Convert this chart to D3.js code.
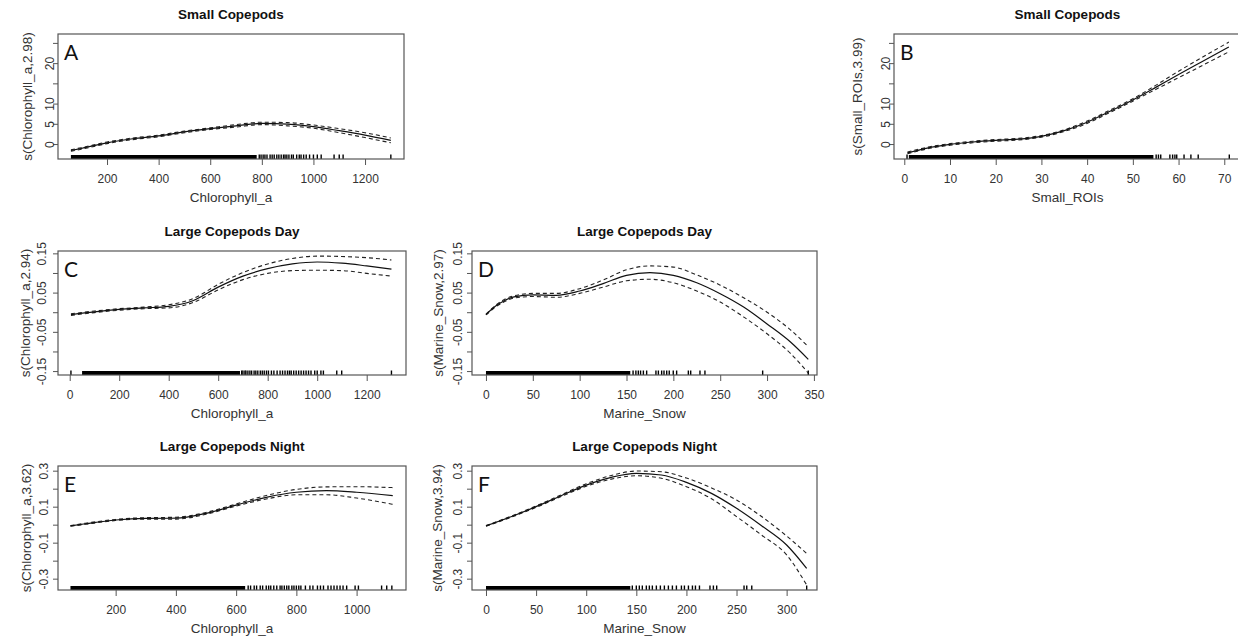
<!DOCTYPE html>
<meta charset="utf-8">
<head>
  <style>
    body {margin: 0; background-color: #ffffff;}
    text {font-family: "Liberation Sans", Arial, sans-serif; fill: #333;}
  </style>
  <title></title>
</head>
<body>
<script src="https://d3js.org/d3.v7.min.js"></script>
<script>

  // ---- A: Small Copepods vs Chlorophyll_a
  const aX     = [60, 100, 200, 300, 400, 500, 600, 700, 800, 900, 1000, 1100, 1200, 1300];
  const aFit   = [-1.6, -1.1, 0.3, 1.3, 2.0, 3.0, 3.8, 4.5, 5.1, 4.9, 4.3, 3.3, 2.2, 0.9];
  const aUpper = [-1.4, -0.9, 0.5, 1.5, 2.2, 3.2, 4.0, 4.8, 5.4, 5.3, 4.7, 3.8, 2.8, 1.5];
  const aLower = [-1.8, -1.3, 0.1, 1.1, 1.8, 2.8, 3.6, 4.2, 4.8, 4.5, 3.9, 2.8, 1.6, 0.3];
  const aRugBand = [[60, 780]];
  const aRugTicks = [790, 797, 805, 812, 820, 832, 840, 848, 858, 866, 875, 884, 890, 897, 905,
                     915, 922, 935, 945, 952, 962, 972, 985, 1000, 1015, 1030, 1080, 1100, 1115, 1300];

  // ---- B: Small Copepods vs Small_ROIs
  const bX     = [0.7, 5, 10, 15, 20, 25, 30, 35, 40, 45, 50, 55, 60, 65, 71];
  const bFit   = [-2.2, -1.0, -0.1, 0.5, 0.9, 1.2, 1.9, 3.3, 5.4, 8.1, 10.9, 14.0, 17.2, 20.3, 24.0];
  const bUpper = [-2.0, -0.8, 0.1, 0.7, 1.1, 1.4, 2.1, 3.5, 5.7, 8.4, 11.2, 14.5, 18.0, 21.3, 25.2];
  const bLower = [-2.4, -1.2, -0.3, 0.3, 0.7, 1.0, 1.7, 3.1, 5.1, 7.8, 10.6, 13.5, 16.4, 19.3, 22.8];
  const bRugBand = [[1, 54.5]];
  const bRugTicks = [0.6, 55.1, 55.6, 56.1, 58.1, 58.7, 59.2, 59.6, 61.2, 62.7, 64.3, 71.1];

  // ---- C: Large Copepods Day vs Chlorophyll_a
  const cX     = [5, 100, 200, 300, 400, 500, 600, 700, 800, 900, 1000, 1100, 1200, 1300];
  const cFit   = [-0.006, 0.001, 0.007, 0.011, 0.015, 0.030, 0.064, 0.092, 0.111, 0.123, 0.128, 0.125, 0.118, 0.110];
  const cUpper = [-0.004, 0.003, 0.009, 0.013, 0.019, 0.035, 0.071, 0.101, 0.123, 0.137, 0.143, 0.142, 0.139, 0.133];
  const cLower = [-0.008, -0.001, 0.005, 0.009, 0.011, 0.025, 0.057, 0.083, 0.099, 0.106, 0.107, 0.106, 0.099, 0.092];
  const cRugBand = [[50, 688]];
  const cRugTicks = [5, 695, 700, 708, 712, 720, 728, 735, 745, 752, 760, 770, 778, 786, 795, 803, 815,
                     825, 838, 850, 860, 870, 880, 888, 895, 905, 915, 925, 935, 945, 955, 965, 975,
                     990, 1000, 1015, 1025, 1079, 1099, 1300];

  // ---- D: Large Copepods Day vs Marine_Snow
  const dX     = [0, 10, 20, 30, 50, 75, 100, 125, 150, 175, 200, 225, 250, 275, 300, 325, 344];
  const dFit   = [-0.006, 0.015, 0.030, 0.039, 0.044, 0.043, 0.054, 0.073, 0.094, 0.101, 0.094, 0.075, 0.047, 0.013, -0.030, -0.076, -0.120];
  const dUpper = [-0.005, 0.017, 0.033, 0.042, 0.048, 0.048, 0.060, 0.082, 0.108, 0.118, 0.115, 0.095, 0.069, 0.037, 0.000, -0.045, -0.088];
  const dLower = [-0.007, 0.013, 0.027, 0.036, 0.040, 0.038, 0.048, 0.064, 0.080, 0.084, 0.075, 0.054, 0.026, -0.012, -0.055, -0.105, -0.155];
  const dRugBand = [[0, 154]];
  const dRugTicks = [157, 160, 162.6, 165, 168, 171.5, 181.4, 184, 187.5, 190, 192.9, 195.6, 199.9,
                     203.5, 216, 218.5, 228.4, 233.7, 295.3, 344];

  // ---- E: Large Copepods Night vs Chlorophyll_a
  const eX     = [50, 100, 200, 300, 400, 500, 600, 700, 800, 900, 1000, 1120];
  const eFit   = [-0.007, 0.005, 0.026, 0.035, 0.036, 0.063, 0.109, 0.152, 0.180, 0.189, 0.180, 0.161];
  const eUpper = [-0.005, 0.008, 0.029, 0.039, 0.041, 0.068, 0.115, 0.162, 0.196, 0.210, 0.211, 0.206];
  const eLower = [-0.009, 0.002, 0.023, 0.031, 0.031, 0.058, 0.103, 0.143, 0.166, 0.166, 0.148, 0.113];
  const eRugBand = [[50, 630]];
  const eRugTicks = [640, 648, 660, 668, 680, 688, 700, 708, 715, 725, 735, 746, 752, 760, 768, 775,
                     785, 792, 800, 808, 815, 830, 845, 855, 870, 880, 890, 905, 915, 925, 935, 945,
                     955, 967, 995, 1006, 1083, 1100, 1117];

  // ---- F: Large Copepods Night vs Marine_Snow
  const fX     = [0, 25, 50, 75, 100, 125, 150, 175, 200, 225, 250, 275, 300, 320];
  const fFit   = [-0.007, 0.044, 0.100, 0.161, 0.220, 0.263, 0.285, 0.276, 0.235, 0.174, 0.091, -0.006, -0.113, -0.243];
  const fUpper = [-0.005, 0.047, 0.104, 0.166, 0.227, 0.273, 0.298, 0.294, 0.259, 0.204, 0.137, 0.045, -0.063, -0.160];
  const fLower = [-0.009, 0.041, 0.096, 0.156, 0.213, 0.253, 0.272, 0.258, 0.211, 0.144, 0.045, -0.058, -0.168, -0.335];
  const fRugBand = [[0, 144]];
  const fRugTicks = [146, 150, 153, 156, 160, 163, 166, 170, 174, 178, 182, 186, 190, 195, 198, 202,
                     206, 209, 213, 223.5, 226.9, 230.2, 257.5, 260.2, 265.2, 320];

  // ---- axis ticks
  const chlTicksA = [200, 400, 600, 800, 1000, 1200];
  const chlTicksC = [0, 200, 400, 600, 800, 1000, 1200];
  const chlTicksE = [200, 400, 600, 800, 1000];
  const roiTicks  = [0, 10, 20, 30, 40, 50, 60, 70];
  const snowTicksD = [0, 50, 100, 150, 200, 250, 300, 350];
  const snowTicksF = [0, 50, 100, 150, 200, 250, 300];
  const smallYTicks  = [0, 5, 10, 15, 20, 25];
  const smallYLabels = ["0", "5", "10", "", "20", ""];
  const dayYTicks  = [-0.15, -0.10, -0.05, 0, 0.05, 0.10, 0.15];
  const dayYLabels = ["-0.15", "", "-0.05", "", "0.05", "", "0.15"];
  const nightYTicks  = [-0.3, -0.2, -0.1, 0, 0.1, 0.2, 0.3];
  const nightYLabels = ["-0.3", "", "-0.1", "", "0.1", "", "0.3"];

  const W = 1238, H = 638;

  const panels = [
    {tag: "A", title: "Small Copepods", xlab: "Chlorophyll_a", ylab: "s(Chlorophyll_a,2.98)",
     x: aX, fit: aFit, up: aUpper, lo: aLower, band: aRugBand, rug: aRugTicks,
     xTicks: chlTicksA, yTicks: smallYTicks, yLabels: smallYLabels,
     box: {l: 58, r: 404, t: 34, b: 159}, xDom: [10, 1351], yDom: [-3.7, 27.2], tlOff: -8, ylOff: -31},
    {tag: "B", title: "Small Copepods", xlab: "Small_ROIs", ylab: "s(Small_ROIs,3.99)",
     x: bX, fit: bFit, up: bUpper, lo: bLower, band: bRugBand, rug: bRugTicks,
     xTicks: roiTicks, yTicks: smallYTicks, yLabels: smallYLabels,
     box: {l: 894, r: 1241, t: 34, b: 159}, xDom: [-2.25, 73.66], yDom: [-3.7, 27.2], tlOff: -8, ylOff: -37},
    {tag: "C", title: "Large Copepods Day", xlab: "Chlorophyll_a", ylab: "s(Chlorophyll_a,2.94)",
     x: cX, fit: cFit, up: cUpper, lo: cLower, band: cRugBand, rug: cRugTicks,
     xTicks: chlTicksC, yTicks: dayYTicks, yLabels: dayYLabels,
     box: {l: 58, r: 406, t: 251, b: 375}, xDom: [-47.3, 1358.8], yDom: [-0.160, 0.156], tlOff: -16, ylOff: -33},
    {tag: "D", title: "Large Copepods Day", xlab: "Marine_Snow", ylab: "s(Marine_Snow,2.97)",
     x: dX, fit: dFit, up: dUpper, lo: dLower, band: dRugBand, rug: dRugTicks,
     xTicks: snowTicksD, yTicks: dayYTicks, yLabels: dayYLabels,
     box: {l: 472, r: 817, t: 251, b: 375}, xDom: [-14.9, 353.3], yDom: [-0.160, 0.156], tlOff: -14, ylOff: -34.5},
    {tag: "E", title: "Large Copepods Night", xlab: "Chlorophyll_a", ylab: "s(Chlorophyll_a,3.62)",
     x: eX, fit: eFit, up: eUpper, lo: eLower, band: eRugBand, rug: eRugTicks,
     xTicks: chlTicksE, yTicks: nightYTicks, yLabels: nightYLabels,
     box: {l: 58, r: 406, t: 466, b: 590}, xDom: [8.6, 1164], yDom: [-0.363, 0.326], tlOff: -14, ylOff: -32.5},
    {tag: "F", title: "Large Copepods Night", xlab: "Marine_Snow", ylab: "s(Marine_Snow,3.94)",
     x: fX, fit: fFit, up: fUpper, lo: fLower, band: fRugBand, rug: fRugTicks,
     xTicks: snowTicksF, yTicks: nightYTicks, yLabels: nightYLabels,
     box: {l: 472, r: 817, t: 466, b: 590}, xDom: [-13.97, 330.3], yDom: [-0.363, 0.326], tlOff: -14.5, ylOff: -35.5}
  ];

  var svg = d3.select("body")
    .append("svg")
      .attr("width", W)
      .attr("height", H);

  function drawPanel(p) {
    const b = p.box;
    const xScale = d3.scaleLinear().domain(p.xDom).range([b.l, b.r]);
    const yScale = d3.scaleLinear().domain(p.yDom).range([b.b, b.t]);
    const g = svg.append("g");

    // title
    g.append("text")
      .attr("x", (b.l + b.r) / 2)
      .attr("y", b.t - 15)
      .attr("text-anchor", "middle")
      .style("font-size", "13.5px")
      .style("font-weight", "bold")
      .style("fill", "#111")
      .text(p.title);

    // x axis
    const xAxis = g.append("g")
      .attr("transform", "translate(0," + b.b + ")")
      .call(d3.axisBottom(xScale).tickValues(p.xTicks).tickSize(6).tickSizeOuter(0).tickFormat(d3.format("d")));
    xAxis.select(".domain").remove();
    xAxis.selectAll("line").attr("stroke", "#555");
    xAxis.selectAll("text")
      .attr("y", 15)
      .attr("dy", "0.71em")
      .style("font-size", "12px")
      .style("font-family", "Liberation Sans, Arial, sans-serif")
      .style("fill", "#333");

    // y axis, labels rotated like R's las=0
    const yAxis = g.append("g")
      .attr("transform", "translate(" + b.l + ",0)")
      .call(d3.axisLeft(yScale).tickValues(p.yTicks).tickSize(5).tickSizeOuter(0)
        .tickFormat((d, i) => p.yLabels[i]));
    yAxis.select(".domain").remove();
    yAxis.selectAll("line").attr("stroke", "#555");
    yAxis.selectAll("text")
      .attr("transform", "rotate(-90)")
      .attr("x", 0)
      .attr("y", p.tlOff + 4.3)
      .attr("dy", 0)
      .attr("text-anchor", "middle")
      .style("font-size", "12px")
      .style("font-family", "Liberation Sans, Arial, sans-serif")
      .style("fill", "#333");

    // axis titles
    g.append("text")
      .attr("x", (b.l + b.r) / 2)
      .attr("y", b.b + 42.5)
      .attr("text-anchor", "middle")
      .style("font-size", "13.5px")
      .text(p.xlab);

    g.append("text")
      .attr("transform", "translate(" + (b.l + p.ylOff + 5) + "," + ((b.t + b.b) / 2) + ") rotate(-90)")
      .attr("text-anchor", "middle")
      .style("font-size", "13.5px")
      .text(p.ylab);

    // rug
    g.selectAll(".band")
      .data(p.band)
      .enter()
      .append("rect")
        .attr("x", d => xScale(d[0]))
        .attr("width", d => xScale(d[1]) - xScale(d[0]))
        .attr("y", b.b - 4)
        .attr("height", 4)
        .attr("fill", "#000");

    g.selectAll(".rug")
      .data(p.rug)
      .enter()
      .append("line")
        .attr("x1", d => xScale(d))
        .attr("x2", d => xScale(d))
        .attr("y1", b.b - 4.5)
        .attr("y2", b.b)
        .attr("stroke", "#000")
        .attr("stroke-width", 1.4);

    // smooth + confidence band
    const line = (ys) => d3.line()
      .x((d, i) => xScale(p.x[i]))
      .y(d => yScale(d))
      .curve(d3.curveMonotoneX)(ys);

    g.append("path")
      .attr("d", line(p.up))
      .attr("fill", "none")
      .attr("stroke", "#222")
      .attr("stroke-width", 1.1)
      .attr("stroke-dasharray", "4,3");
    g.append("path")
      .attr("d", line(p.lo))
      .attr("fill", "none")
      .attr("stroke", "#222")
      .attr("stroke-width", 1.1)
      .attr("stroke-dasharray", "4,3");
    g.append("path")
      .attr("d", line(p.fit))
      .attr("fill", "none")
      .attr("stroke", "#111")
      .attr("stroke-width", 1.2);

    // box
    g.append("rect")
      .attr("x", b.l)
      .attr("y", b.t)
      .attr("width", b.r - b.l)
      .attr("height", b.b - b.t)
      .attr("fill", "none")
      .attr("stroke", "#555")
      .attr("stroke-width", 1.2);

    // panel letter
    g.append("text")
      .attr("x", b.l + 6)
      .attr("y", b.t + 26)
      .style("font-family", "Lato, 'Open Sans', sans-serif")
      .style("font-size", "21px")
      .style("fill", "#111")
      .text(p.tag);
  }

  panels.forEach(drawPanel);

</script>
</body>
</html>
